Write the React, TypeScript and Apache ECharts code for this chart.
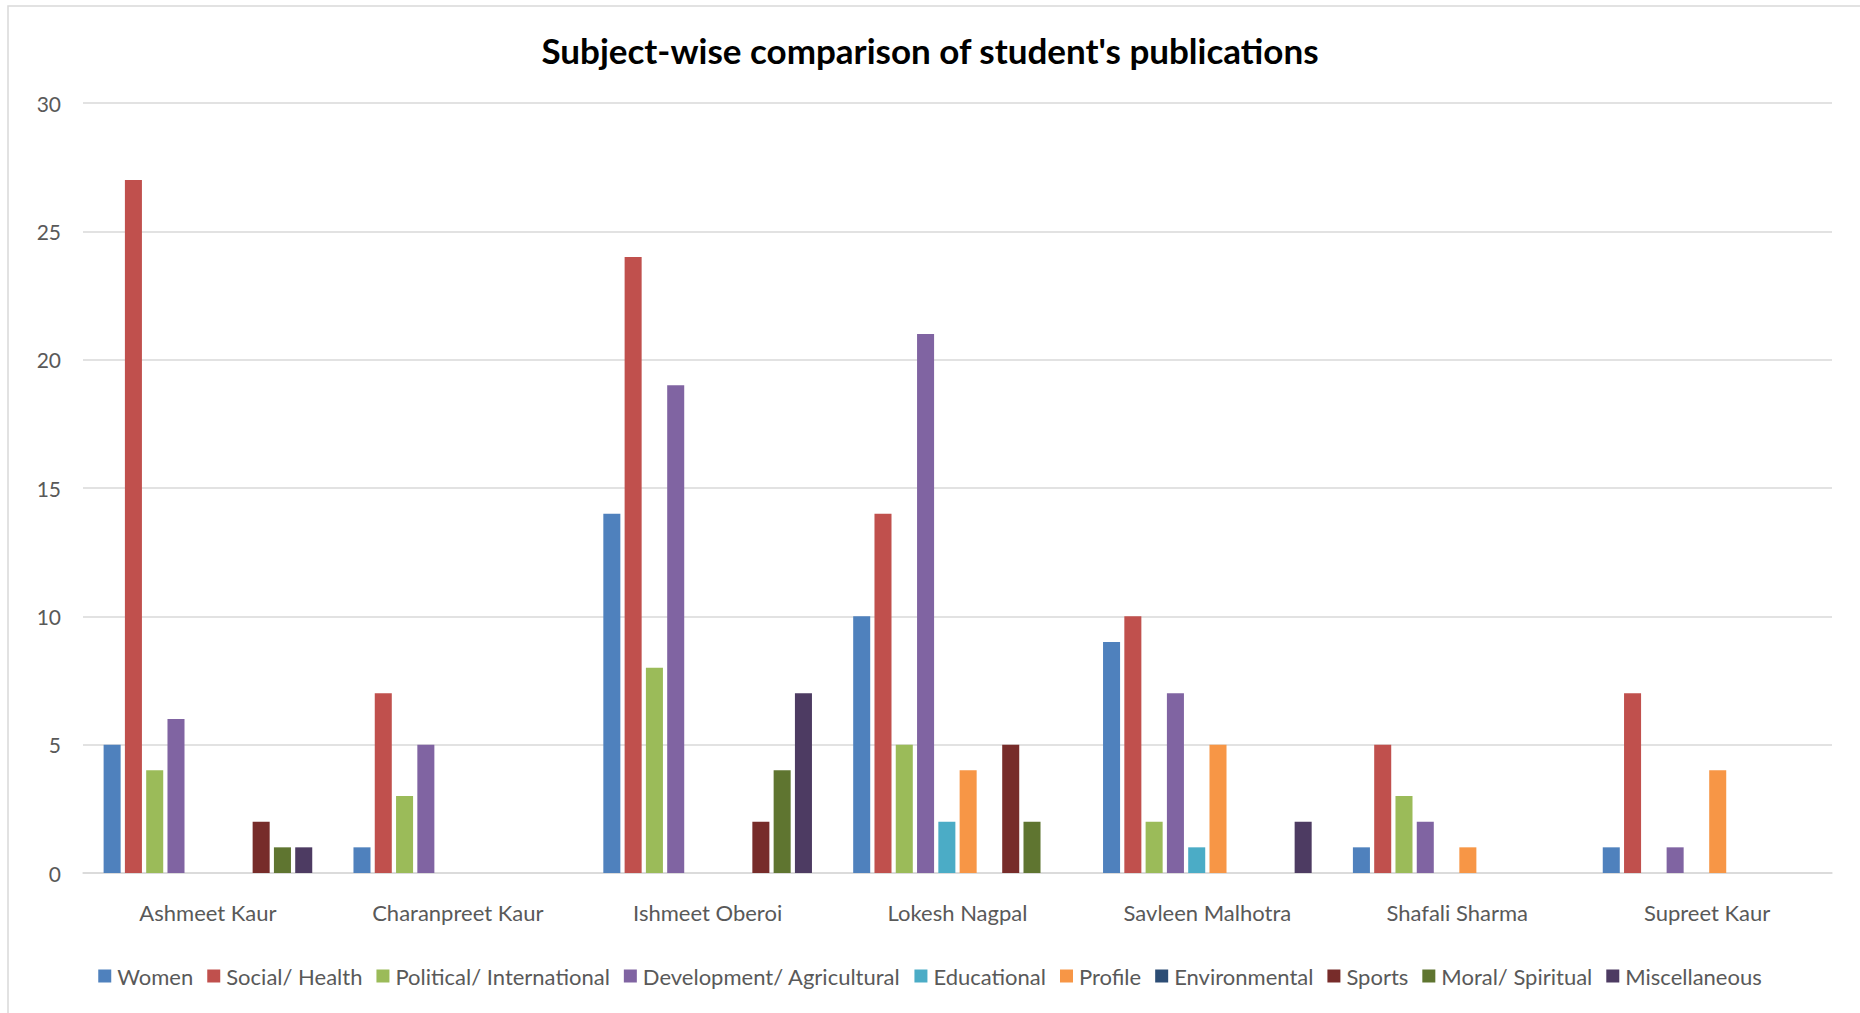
import React, { useEffect, useRef } from "react";
import * as echarts from "echarts";

const categories = ["Ashmeet Kaur", "Charanpreet Kaur", "Ishmeet Oberoi", "Lokesh Nagpal", "Savleen Malhotra", "Shafali Sharma", "Supreet Kaur"];
const seriesNames = ["Women", "Social/ Health", "Political/ International", "Development/ Agricultural", "Educational", "Profile", "Environmental", "Sports", "Moral/ Spiritual", "Miscellaneous"];
const women = [5, 1, 14, 10, 9, 1, 1];
const socialHealth = [27, 7, 24, 14, 10, 5, 7];
const political = [4, 3, 8, 5, 2, 3, 0];
const development = [6, 5, 19, 21, 7, 2, 1];
const educational = [0, 0, 0, 2, 1, 0, 0];
const profile = [0, 0, 0, 4, 5, 1, 4];
const environmental = [0, 0, 0, 0, 0, 0, 0];
const sports = [2, 0, 2, 5, 0, 0, 0];
const moral = [1, 0, 4, 2, 0, 0, 0];
const miscellaneous = [1, 0, 7, 0, 2, 0, 0];
const seriesData = [women, socialHealth, political, development, educational, profile, environmental, sports, moral, miscellaneous];
const colors = ["#4F81BD", "#C0504D", "#9BBB59", "#8064A2", "#4BACC6", "#F79646", "#2C4D75", "#772C2A", "#5F7530", "#4D3B62"];

export default function App() {
  const ref = useRef<HTMLDivElement>(null);
  useEffect(() => {
    if (!ref.current) return;
    const chart = echarts.init(ref.current, null, { renderer: "svg" });
    const font = "Lato";
    chart.setOption({
      animation: false,
      backgroundColor: "#ffffff",
      color: colors,
      title: {
        text: "Subject-wise comparison of student's publications",
        left: "center",
        top: 27,
        textStyle: { fontFamily: font, fontWeight: "bold", fontSize: 35, color: "#000000" },
      },
      graphic: [
        {
          type: "rect",
          shape: { x: 8, y: 6, width: 1900, height: 1100 },
          style: { fill: "none", stroke: "#d9d9d9", lineWidth: 1.5 },
          silent: true,
        },
      ],
      legend: {
        bottom: 21,
        left: "center",
        itemWidth: 13,
        itemHeight: 13,
        itemGap: 14,
        icon: "rect",
        textStyle: { fontFamily: font, fontSize: 22, color: "#595959", padding: [0, 0, 0, 1] },
        data: seriesNames,
      },
      grid: { left: 83, right: 28, top: 103, bottom: 140, containLabel: false },
      xAxis: {
        type: "category",
        data: categories,
        axisTick: { show: false },
        axisLine: { lineStyle: { color: "#d9d9d9", width: 1.5 } },
        axisLabel: { color: "#595959", fontFamily: font, fontSize: 22, margin: 28 },
      },
      yAxis: {
        type: "value",
        min: 0,
        max: 30,
        interval: 5,
        axisLine: { show: false },
        axisTick: { show: false },
        splitLine: { lineStyle: { color: "#d9d9d9", width: 1.5 } },
        axisLabel: { color: "#595959", fontFamily: font, fontSize: 21, margin: 22 },
      },
      series: seriesNames.map((name, i) => ({
        name,
        type: "bar",
        data: seriesData[i],
        barGap: "25%",
        barCategoryGap: "16.5%",
        itemStyle: { color: colors[i] },
      })),
    });
    return () => chart.dispose();
  }, []);
  return <div ref={ref} style={{ position: "fixed", left: 0, top: 0, width: 1860, height: 1013 }} />;
}
